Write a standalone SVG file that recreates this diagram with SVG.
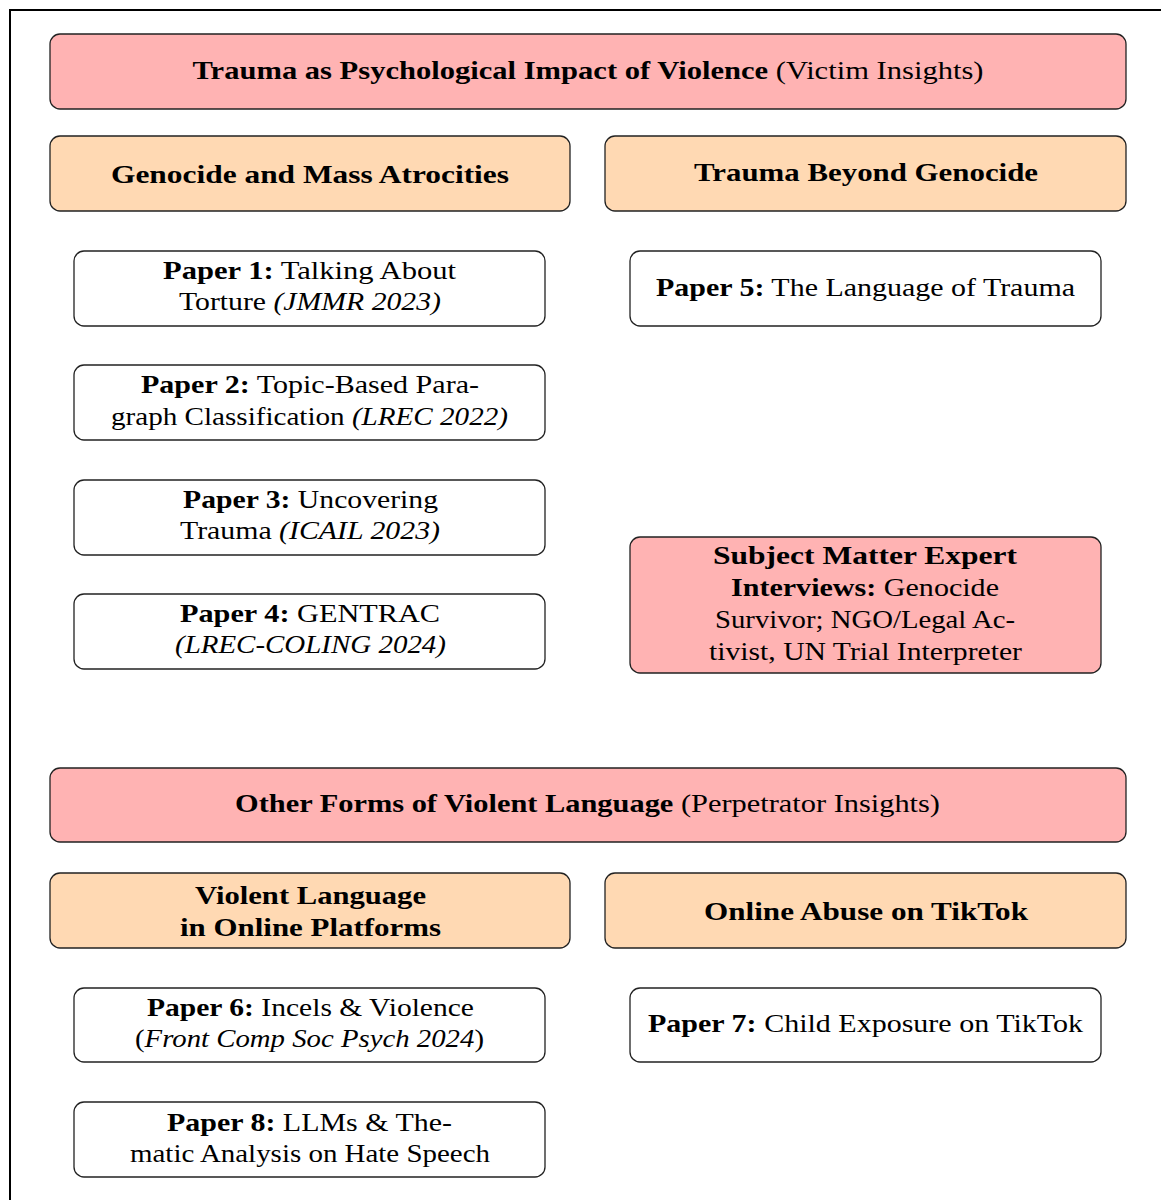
<svg xmlns="http://www.w3.org/2000/svg" width="1161" height="1200" viewBox="0 0 1161 1200">
<style>
text{font-family:"Liberation Serif","DejaVu Serif",serif;font-size:26px;fill:#000;text-anchor:middle}
.b{font-weight:bold}
.i{font-style:italic}
.box{stroke:#222;stroke-width:1.3}
.red{fill:#ffb3b3}
.org{fill:#ffd9b3}
.wht{fill:#fff}
</style>
<rect width="1161" height="1200" fill="#fff"/>
<path d="M10,1200 V10 H1161" fill="none" stroke="#000" stroke-width="2"/>
<g id="connectors"></g>
<g id="n-title1"><rect class="box red" x="50" y="34" width="1076" height="75" rx="10"/>
<text x="588" y="79" textLength="791" lengthAdjust="spacingAndGlyphs"><tspan class="b">Trauma as Psychological Impact of Violence</tspan> (Victim Insights)</text></g>
<g id="n-genocide"><rect class="box org" x="50" y="136" width="520" height="75" rx="10"/>
<text class="b" x="310" y="183" textLength="398" lengthAdjust="spacingAndGlyphs">Genocide and Mass Atrocities</text></g>
<g id="n-beyond"><rect class="box org" x="605" y="136" width="521" height="75" rx="10"/>
<text class="b" x="866" y="181" textLength="344" lengthAdjust="spacingAndGlyphs">Trauma Beyond Genocide</text></g>
<g id="n-paper1"><rect class="box wht" x="74" y="251" width="471" height="75" rx="10"/>
<text x="309.5" y="279" textLength="293" lengthAdjust="spacingAndGlyphs"><tspan class="b">Paper 1:</tspan> Talking About</text>
<text x="310" y="310" textLength="262" lengthAdjust="spacingAndGlyphs">Torture <tspan class="i">(JMMR 2023)</tspan></text></g>
<g id="n-paper2"><rect class="box wht" x="74" y="365" width="471" height="75" rx="10"/>
<text x="310" y="393" textLength="338" lengthAdjust="spacingAndGlyphs"><tspan class="b">Paper 2:</tspan> Topic-Based Para-</text>
<text x="309.5" y="425" textLength="397" lengthAdjust="spacingAndGlyphs">graph Classification <tspan class="i">(LREC 2022)</tspan></text></g>
<g id="n-paper3"><rect class="box wht" x="74" y="480" width="471" height="75" rx="10"/>
<text x="310.5" y="508" textLength="255" lengthAdjust="spacingAndGlyphs"><tspan class="b">Paper 3:</tspan> Uncovering</text>
<text x="310" y="539" textLength="260" lengthAdjust="spacingAndGlyphs">Trauma <tspan class="i">(ICAIL 2023)</tspan></text></g>
<g id="n-paper4"><rect class="box wht" x="74" y="594" width="471" height="75" rx="10"/>
<text x="310" y="622" textLength="260" lengthAdjust="spacingAndGlyphs"><tspan class="b">Paper 4:</tspan> GENTRAC</text>
<text class="i" x="310.5" y="653" textLength="271" lengthAdjust="spacingAndGlyphs">(LREC-COLING 2024)</text></g>
<g id="n-paper5"><rect class="box wht" x="630" y="251" width="471" height="75" rx="10"/>
<text x="865.5" y="296" textLength="419" lengthAdjust="spacingAndGlyphs"><tspan class="b">Paper 5:</tspan> The Language of Trauma</text></g>
<g id="n-sme"><rect class="box red" x="630" y="537" width="471" height="136" rx="10"/>
<text class="b" x="865" y="564" textLength="304" lengthAdjust="spacingAndGlyphs">Subject Matter Expert</text>
<text x="865" y="596" textLength="268" lengthAdjust="spacingAndGlyphs"><tspan class="b">Interviews:</tspan> Genocide</text>
<text x="865" y="628" textLength="300" lengthAdjust="spacingAndGlyphs">Survivor; NGO/Legal Ac-</text>
<text x="865.5" y="660" textLength="313" lengthAdjust="spacingAndGlyphs">tivist, UN Trial Interpreter</text></g>
<g id="n-title2"><rect class="box red" x="50" y="768" width="1076" height="74" rx="10"/>
<text x="587.5" y="812" textLength="705" lengthAdjust="spacingAndGlyphs"><tspan class="b">Other Forms of Violent Language</tspan> (Perpetrator Insights)</text></g>
<g id="n-online"><rect class="box org" x="50" y="873" width="520" height="75" rx="10"/>
<text class="b" x="310.5" y="904" textLength="231" lengthAdjust="spacingAndGlyphs">Violent Language</text>
<text class="b" x="310.5" y="936" textLength="261" lengthAdjust="spacingAndGlyphs">in Online Platforms</text></g>
<g id="n-tiktok"><rect class="box org" x="605" y="873" width="521" height="75" rx="10"/>
<text class="b" x="866" y="920" textLength="324" lengthAdjust="spacingAndGlyphs">Online Abuse on TikTok</text></g>
<g id="n-paper6"><rect class="box wht" x="74" y="988" width="471" height="74" rx="10"/>
<text x="310.5" y="1016" textLength="327" lengthAdjust="spacingAndGlyphs"><tspan class="b">Paper 6:</tspan> Incels &amp; Violence</text>
<text x="309.5" y="1047" textLength="349" lengthAdjust="spacingAndGlyphs">(<tspan class="i">Front Comp Soc Psych 2024</tspan>)</text></g>
<g id="n-paper7"><rect class="box wht" x="630" y="988" width="471" height="74" rx="10"/>
<text x="865.5" y="1032" textLength="435" lengthAdjust="spacingAndGlyphs"><tspan class="b">Paper 7:</tspan> Child Exposure on TikTok</text></g>
<g id="n-paper8"><rect class="box wht" x="74" y="1102" width="471" height="75" rx="10"/>
<text x="309.5" y="1131" textLength="285" lengthAdjust="spacingAndGlyphs"><tspan class="b">Paper 8:</tspan> LLMs &amp; The-</text>
<text x="310" y="1162" textLength="360" lengthAdjust="spacingAndGlyphs">matic Analysis on Hate Speech</text></g>
</svg>
